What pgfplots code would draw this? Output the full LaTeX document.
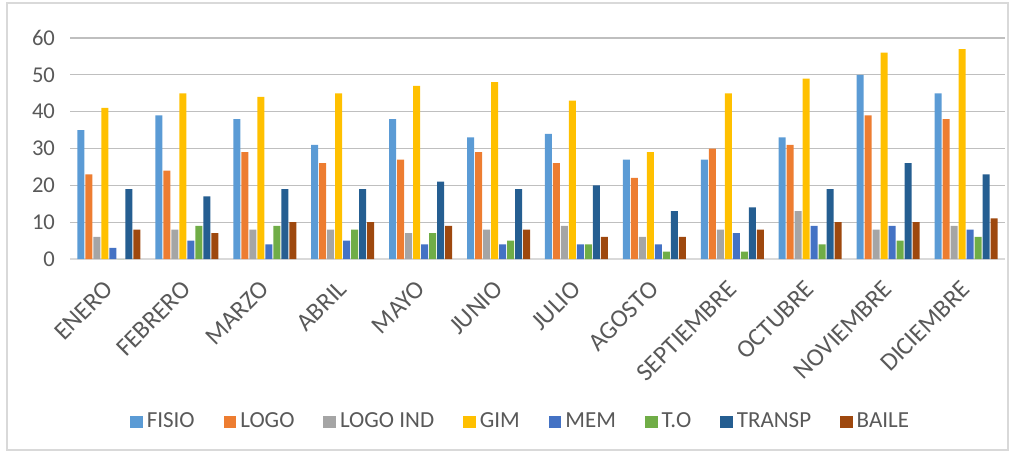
\documentclass[border=0pt]{standalone}
\usepackage{pgfplots}
\pgfplotsset{compat=1.18}
\usepackage{fontspec}
\setmainfont{Carlito}
\definecolor{cFISIO}{HTML}{5B9BD5}
\definecolor{cLOGO}{HTML}{ED7D31}
\definecolor{cLOGOIND}{HTML}{A5A5A5}
\definecolor{cGIM}{HTML}{FFC000}
\definecolor{cMEM}{HTML}{4472C4}
\definecolor{cTO}{HTML}{70AD47}
\definecolor{cTRANSP}{HTML}{255E91}
\definecolor{cBAILE}{HTML}{9E480E}
\definecolor{txt}{HTML}{595959}
\definecolor{grid}{HTML}{D9D9D9}
\begin{document}
\begin{tikzpicture}
\useasboundingbox (-35pt,-97.5pt) rectangle (472.5pt,129.5pt);
\draw[grid, line width=0.6pt] (-31.5pt,-95.5pt) rectangle (469pt,128pt);
\begin{axis}[
  at={(0,0)}, anchor=south west,
  scale only axis, width=467.5pt, height=110.5pt,
  ybar=0.5pt, bar width=3.5pt,
  xmin=-0.5, xmax=11.5, ymin=0, ymax=60,
  ytick={0,10,...,60},
  xtick={0,...,11},
  xticklabels={ENERO,FEBRERO,MARZO,ABRIL,MAYO,JUNIO,JULIO,AGOSTO,SEPTIEMBRE,OCTUBRE,NOVIEMBRE,DICIEMBRE},
  axis x line*=bottom, axis y line*=left,
  y axis line style={draw=none},
  x axis line style={grid, line width=0.6pt},
  ymajorgrids, xmajorgrids=false, grid style={grid, line width=0.6pt},
  major tick length=0pt,
  tick label style={text=txt},
  y tick label style={font=\fontsize{11.3}{13}\selectfont, xshift=-4pt},
  x tick label style={font=\fontsize{12.6}{14}\selectfont, yshift=-13pt, rotate=45, anchor=east, inner sep=0pt},
  /pgf/number format/assume math mode=true,
  legend style={at={(0.483,-0.7376)}, anchor=center, draw=none, legend columns=-1,
    font=\fontsize{11.5}{13}\selectfont, text=txt,
    /tikz/every even column/.append style={column sep=12.5pt}},
  legend image code/.code={\fill[#1] (0pt,-3.15pt) rectangle (6.3pt,3.15pt);},
  every axis plot/.append style={draw=none},
]
\addplot[fill=cFISIO] coordinates {(0,35)(1,39)(2,38)(3,31)(4,38)(5,33)(6,34)(7,27)(8,27)(9,33)(10,50)(11,45)};
\addplot[fill=cLOGO] coordinates {(0,23)(1,24)(2,29)(3,26)(4,27)(5,29)(6,26)(7,22)(8,30)(9,31)(10,39)(11,38)};
\addplot[fill=cLOGOIND] coordinates {(0,6)(1,8)(2,8)(3,8)(4,7)(5,8)(6,9)(7,6)(8,8)(9,13)(10,8)(11,9)};
\addplot[fill=cGIM] coordinates {(0,41)(1,45)(2,44)(3,45)(4,47)(5,48)(6,43)(7,29)(8,45)(9,49)(10,56)(11,57)};
\addplot[fill=cMEM] coordinates {(0,3)(1,5)(2,4)(3,5)(4,4)(5,4)(6,4)(7,4)(8,7)(9,9)(10,9)(11,8)};
\addplot[fill=cTO] coordinates {(0,0)(1,9)(2,9)(3,8)(4,7)(5,5)(6,4)(7,2)(8,2)(9,4)(10,5)(11,6)};
\addplot[fill=cTRANSP] coordinates {(0,19)(1,17)(2,19)(3,19)(4,21)(5,19)(6,20)(7,13)(8,14)(9,19)(10,26)(11,23)};
\addplot[fill=cBAILE] coordinates {(0,8)(1,7)(2,10)(3,10)(4,9)(5,8)(6,6)(7,6)(8,8)(9,10)(10,10)(11,11)};
\legend{FISIO,LOGO,LOGO IND,GIM,MEM,T.O,TRANSP,BAILE}
\end{axis}
\end{tikzpicture}
\end{document}
